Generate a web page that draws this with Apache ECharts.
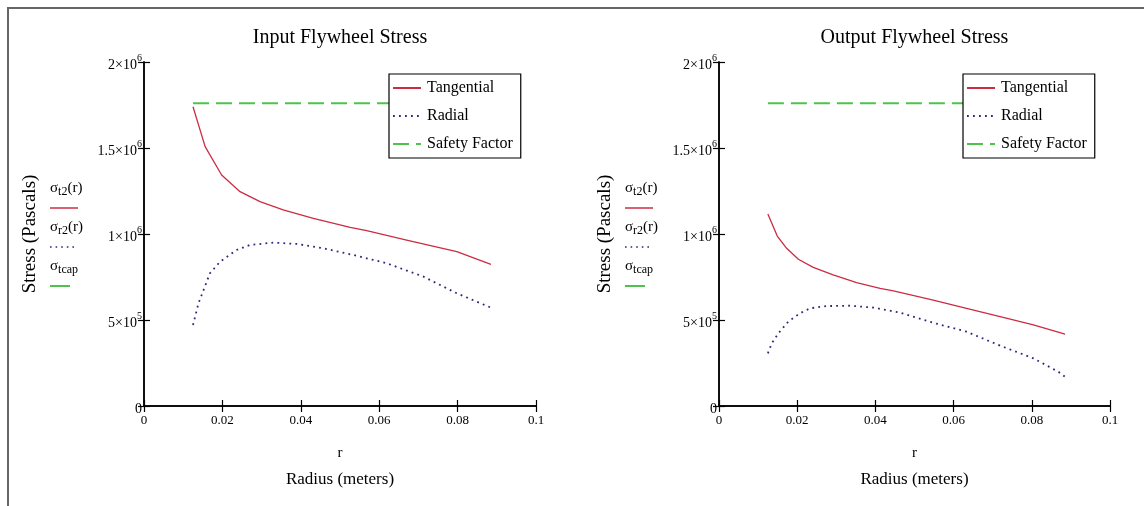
<!DOCTYPE html>
<html>
<head>
<meta charset="utf-8">
<script src="https://cdn.jsdelivr.net/npm/echarts@6/dist/echarts.min.js"></script>
<style>
  html, body { margin: 0; padding: 0; background: #fff; }
  #chart { width: 1144px; height: 506px; }
</style>
</head>
<body>
<div id="chart"></div>
<script>
// Input flywheel: tangential stress (Pa) against radius (m)
const inTanR   = [0.0125, 0.0156, 0.0198, 0.0245, 0.0296, 0.0355, 0.0432, 0.0526, 0.0568, 0.0670, 0.0798, 0.0885];
const inTanS   = [1.740e6, 1.508e6, 1.343e6, 1.246e6, 1.188e6, 1.140e6, 1.091e6, 1.039e6, 1.019e6, 0.965e6, 0.897e6, 0.824e6];
// Input flywheel: radial stress
const inRadR   = [0.0125, 0.0139, 0.0168, 0.0194, 0.0236, 0.0270, 0.0330, 0.0390, 0.0457, 0.0534, 0.0619, 0.0713, 0.0798, 0.0885];
const inRadS   = [0.471e6, 0.597e6, 0.771e6, 0.839e6, 0.907e6, 0.936e6, 0.950e6, 0.942e6, 0.917e6, 0.878e6, 0.830e6, 0.752e6, 0.655e6, 0.572e6];
// Output flywheel: tangential stress
const outTanR  = [0.0125, 0.0149, 0.0173, 0.0203, 0.0241, 0.0292, 0.0352, 0.0412, 0.0446, 0.0548, 0.0633, 0.0719, 0.0804, 0.0885];
const outTanS  = [1.116e6, 0.988e6, 0.917e6, 0.853e6, 0.806e6, 0.762e6, 0.717e6, 0.684e6, 0.669e6, 0.616e6, 0.568e6, 0.519e6, 0.471e6, 0.418e6];
// Output flywheel: radial stress
const outRadR  = [0.0125, 0.0135, 0.0152, 0.0177, 0.0207, 0.0233, 0.0275, 0.0335, 0.0395, 0.0463, 0.0548, 0.0633, 0.0719, 0.0804, 0.0868, 0.0885];
const outRadS  = [0.306e6, 0.364e6, 0.423e6, 0.490e6, 0.539e6, 0.568e6, 0.581e6, 0.583e6, 0.572e6, 0.543e6, 0.484e6, 0.432e6, 0.351e6, 0.277e6, 0.199e6, 0.170e6];
// Allowable stress (safety factor applied), drawn over the flywheel radius span
const capR     = [0.0125, 0.0885];
const capS     = [1.76e6, 1.76e6];

const titles   = ['Input Flywheel Stress', 'Output Flywheel Stress'];
const seriesNames = ['Tangential', 'Radial', 'Safety Factor'];
const xTicks   = { min: 0, max: 0.1, step: 0.02 };
const yTicks   = { min: 0, max: 2e6, step: 5e5 };

const SERIF = '"Liberation Serif", "DejaVu Serif", serif';
const RED = '#cc2c42', BLUE = '#2a2a78', GREEN = '#4cc44c';

const pairs = (xs, ys) => xs.map((x, i) => [x, ys[i]]);

const grids = [
  { left: 144, top: 62, width: 392, height: 344 },
  { left: 719, top: 62, width: 391, height: 344 }
];

function xLabel(v) {
  if (Math.abs(v) < 1e-12) return '0';
  const s = (+v.toFixed(2)).toString();
  return s === '0.1' ? '0.1' : v.toFixed(2);
}
function yLabel(v) {
  if (v === 0) return '{b|0}';
  const e = Math.floor(Math.log10(v) + 1e-9);
  const m = +(v / Math.pow(10, e)).toFixed(2);
  return '{b|' + m + '×10}{s|' + e + '}';
}

const axisLine = { show: true, lineStyle: { color: '#000', width: 1.5 } };
const tickIn = { show: true, inside: true, length: 6, lineStyle: { color: '#000', width: 1.2 } };

const xAxes = [], yAxes = [];
grids.forEach((g, gi) => {
  xAxes.push({
    type: 'value', gridIndex: gi, position: 'bottom',
    min: xTicks.min, max: xTicks.max, interval: xTicks.step,
    axisLine, axisTick: tickIn, splitLine: { show: false },
    axisLabel: { formatter: xLabel, color: '#000', fontFamily: SERIF, fontSize: 13, margin: 8 },
    name: 'r', nameLocation: 'middle', nameGap: 40,
    nameTextStyle: { color: '#000', fontFamily: SERIF, fontSize: 15 }
  });
  xAxes.push({
    type: 'value', gridIndex: gi, position: 'top',
    min: xTicks.min, max: xTicks.max, interval: xTicks.step,
    axisLine, axisTick: tickIn, splitLine: { show: false }, axisLabel: { show: false }
  });
  yAxes.push({
    type: 'value', gridIndex: gi, position: 'left',
    min: yTicks.min, max: yTicks.max, interval: yTicks.step,
    axisLine, axisTick: tickIn, splitLine: { show: false },
    axisLabel: {
      formatter: yLabel, margin: 2,
      rich: {
        b: { fontFamily: SERIF, fontSize: 14, color: '#000', padding: [6, 0, 0, 0] },
        s: { fontFamily: SERIF, fontSize: 10, color: '#000', padding: [0, 0, 7, 0] }
      }
    },
    name: 'Stress (Pascals)', nameLocation: 'middle', nameRotate: 90, nameGap: 104,
    nameTextStyle: { color: '#000', fontFamily: SERIF, fontSize: 19 }
  });
  yAxes.push({
    type: 'value', gridIndex: gi, position: 'right',
    min: yTicks.min, max: yTicks.max, interval: yTicks.step,
    axisLine, axisTick: tickIn, splitLine: { show: false }, axisLabel: { show: false }
  });
});

function plotSeries(gi, tan, rad) {
  return [
    { name: seriesNames[0], type: 'line', xAxisIndex: gi * 2, yAxisIndex: gi * 2,
      data: tan, symbol: 'none', lineStyle: { color: RED, width: 1.3 }, itemStyle: { color: RED } },
    { name: seriesNames[1], type: 'line', xAxisIndex: gi * 2, yAxisIndex: gi * 2,
      data: rad, symbol: 'none', lineStyle: { color: BLUE, width: 1.8, type: [1.8, 4.2] }, itemStyle: { color: BLUE } },
    { name: seriesNames[2], type: 'line', xAxisIndex: gi * 2, yAxisIndex: gi * 2,
      data: pairs(capR, capS), symbol: 'none', lineStyle: { color: GREEN, width: 2, type: [16, 7] }, itemStyle: { color: GREEN } }
  ];
}

const series = [
  ...plotSeries(0, pairs(inTanR, inTanS), pairs(inRadR, inRadS)),
  ...plotSeries(1, pairs(outTanR, outTanS), pairs(outRadR, outRadS))
];

const legends = grids.map(g => ({
  data: seriesNames, orient: 'vertical',
  left: g.left + g.width - 10 - 137, top: 74,
  backgroundColor: '#fff', borderColor: '#000', borderWidth: 1.2,
  padding: [6, 8, 6, 3], itemGap: 12, itemWidth: 28, itemHeight: 14,
  selectedMode: false,
  itemStyle: { opacity: 0, borderWidth: 0 },
  textStyle: { color: '#000', fontFamily: SERIF, fontSize: 16, padding: [0, 0, 0, 1] }
}));

// Titles, the x description below each plot, and the trace key beside each y axis
const graphic = [];
grids.forEach((g, gi) => {
  const cx = g.left + g.width / 2;
  graphic.push({ type: 'text', x: cx, y: 38, style: { text: titles[gi], font: '20px ' + SERIF, fill: '#000', textAlign: 'center', textVerticalAlign: 'middle' } });
  graphic.push({ type: 'text', x: cx, y: 480, style: { text: 'Radius (meters)', font: '17px ' + SERIF, fill: '#000', textAlign: 'center', textVerticalAlign: 'middle' } });
  const kx = g.left - 94;
  const keys = [
    { txt: '{a|σ}{u|t2}{a|(r)}', y: 188, ly: 208, len: 28, color: RED, dash: null, w: 1.5 },
    { txt: '{a|σ}{u|r2}{a|(r)}', y: 227, ly: 247, len: 24, color: BLUE, dash: [1.6, 4], w: 1.6 },
    { txt: '{a|σ}{u|tcap}', y: 266, ly: 286, len: 20, color: GREEN, dash: null, w: 2 }
  ];
  keys.forEach(k => {
    graphic.push({ type: 'text', x: kx, y: k.y, style: {
      text: k.txt, textAlign: 'left', textVerticalAlign: 'middle',
      rich: {
        a: { fontFamily: SERIF, fontSize: 15, fill: '#000', color: '#000' },
        u: { fontFamily: SERIF, fontSize: 12, fill: '#000', color: '#000', padding: [8, 0, 0, 0] }
      }
    } });
    graphic.push({ type: 'line', shape: { x1: kx, y1: k.ly, x2: kx + k.len, y2: k.ly },
      style: { stroke: k.color, lineWidth: k.w, lineDash: k.dash } });
  });
});
// Page frame
graphic.push({ type: 'polyline', shape: { points: [[8, 506], [8, 8], [1144, 8]] }, style: { stroke: '#666', lineWidth: 2, fill: null } });

const chart = echarts.init(document.getElementById('chart'), null, { renderer: 'canvas' });
chart.setOption({
  animation: false,
  backgroundColor: '#fff',
  grid: grids,
  xAxis: xAxes,
  yAxis: yAxes,
  legend: legends,
  series,
  graphic
});
</script>
</body>
</html>
